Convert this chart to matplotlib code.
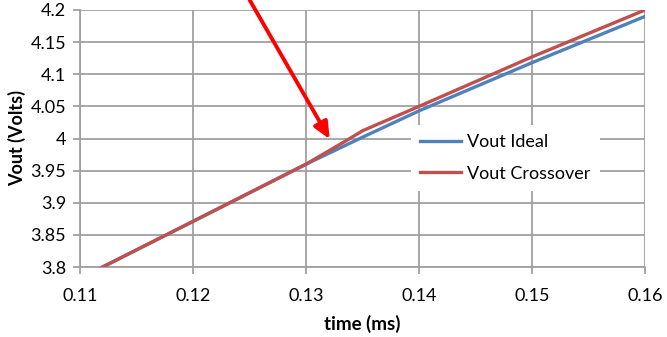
import matplotlib
matplotlib.use("Agg")
import matplotlib.pyplot as plt

# Data
t_ideal = [0.112, 0.120, 0.130, 0.135, 0.140, 0.150, 0.160]
v_ideal = [3.800, 3.871, 3.960, 4.002, 4.043, 4.118, 4.190]
t_cross = [0.112, 0.120, 0.130, 0.1335, 0.135, 0.140, 0.150, 0.160]
v_cross = [3.800, 3.871, 3.960, 3.996, 4.012, 4.050, 4.127, 4.200]
xticks = [0.11, 0.12, 0.13, 0.14, 0.15, 0.16]
xtick_labels = ["0.11", "0.12", "0.13", "0.14", "0.15", "0.16"]
yticks = [3.8, 3.85, 3.9, 3.95, 4.0, 4.05, 4.1, 4.15, 4.2]
ytick_labels = ["3.8", "3.85", "3.9", "3.95", "4", "4.05", "4.1", "4.15", "4.2"]
arrow_start = (0.1250, 4.216)
arrow_tip = (0.1321, 3.999)

plt.rcParams['font.family'] = ['Lato', 'DejaVu Sans']

fig = plt.figure(figsize=(6.67, 3.37), dpi=100)
ax = fig.add_axes([80/667, 70/337, 565/667, 257/337])

ax.plot(t_ideal, v_ideal, color='#4F81BD', lw=2.4, label='Vout Ideal', zorder=3)
ax.plot(t_cross, v_cross, color='#C0504D', lw=2.4, label='Vout Crossover', zorder=4)

ax.set_xlim(0.11, 0.16)
ax.set_ylim(3.8, 4.2)
ax.set_xticks(xticks)
ax.set_xticklabels(xtick_labels)
ax.set_yticks(yticks)
ax.set_yticklabels(ytick_labels)
ax.grid(True, color='#A0A0A0', lw=1.3)
ax.set_axisbelow(True)
for s in ['top', 'right']:
    ax.spines[s].set_visible(False)
for s in ['left', 'bottom']:
    ax.spines[s].set_color('#A0A0A0')
    ax.spines[s].set_linewidth(1.3)
ax.tick_params(axis='both', colors='#A0A0A0', labelcolor='black', labelsize=13, length=5, width=1.3)
ax.tick_params(axis='x', pad=10)
ax.tick_params(axis='y', pad=5)

ax.set_xlabel('time (ms)', fontsize=13.5, fontweight='bold', labelpad=8)
ax.set_ylabel('Vout (Volts)', fontsize=13, fontweight='bold', labelpad=3)

leg = ax.legend(loc='upper left', bbox_to_anchor=(0.569, 0.587), frameon=True, fontsize=13,
                handlelength=2.3, labelspacing=0.85, borderpad=0.5, handletextpad=0.35)
leg.get_frame().set_edgecolor('none')
leg.get_frame().set_facecolor('white')
leg.get_frame().set_alpha(1)

ax.annotate('', xy=arrow_tip, xytext=arrow_start, annotation_clip=False,
            arrowprops=dict(arrowstyle='-|>,head_length=1.0,head_width=0.45', color='#FF0000', lw=2.8,
                            shrinkA=0, shrinkB=0), zorder=6)

fig.savefig('out.png', dpi=100)
